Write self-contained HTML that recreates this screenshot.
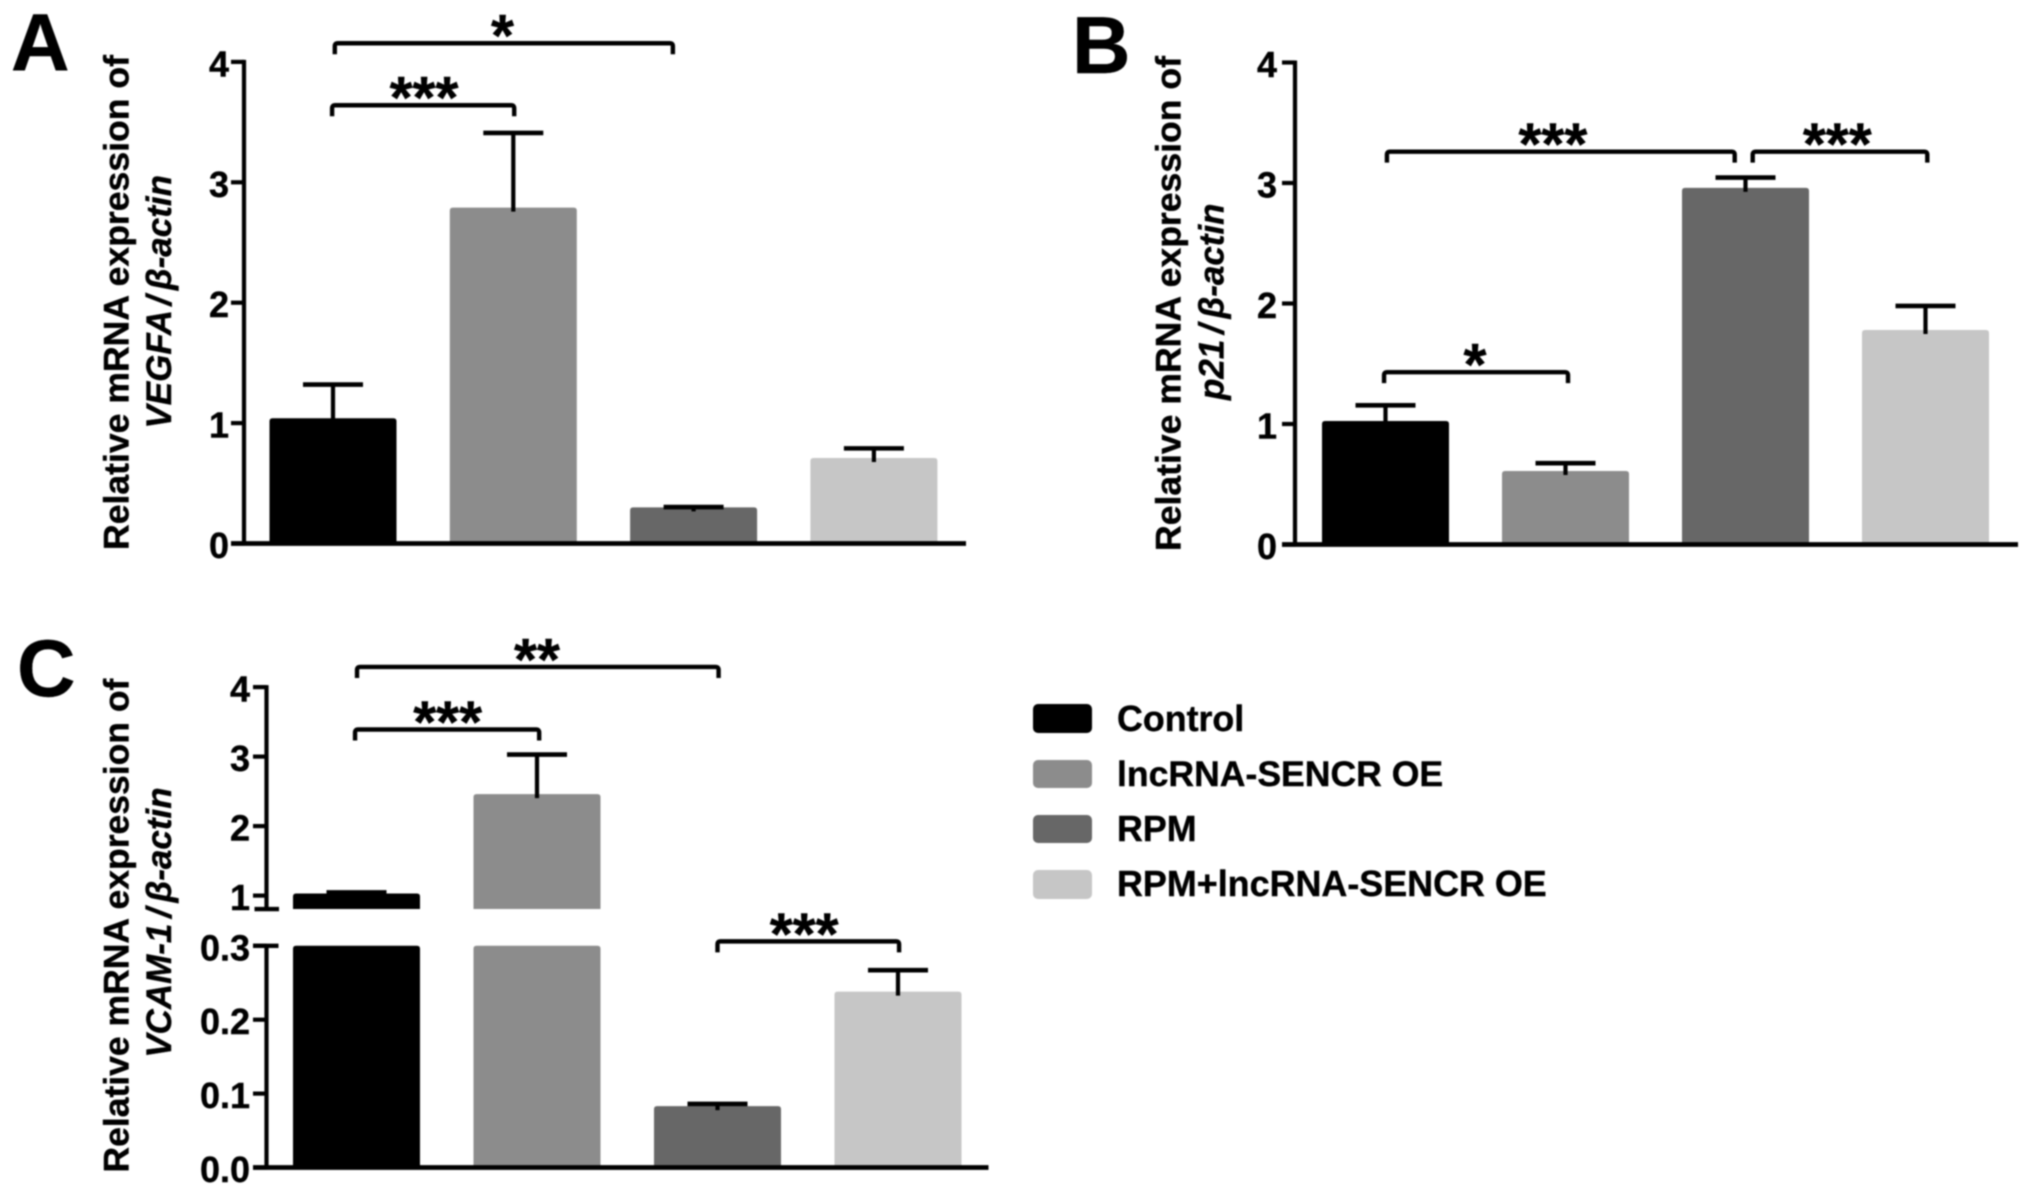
<!DOCTYPE html>
<html lang="en">
<head>
<meta charset="utf-8">
<title>Relative mRNA expression bar charts</title>
<style>
html,body{margin:0;padding:0;background:#fff;width:2031px;height:1192px;overflow:hidden}
svg{display:block;filter:blur(0.9px)}
text{font-family:"Liberation Sans",Arial,sans-serif;font-weight:700;fill:#000;stroke:#000;stroke-width:0.4px}
</style>
</head>
<body>
<svg id="figure" xmlns="http://www.w3.org/2000/svg" width="2031" height="1192" viewBox="0 0 2031 1192">
  <rect width="2031" height="1192" fill="#fff"/>

  <text x="11" y="70" font-size="81">A</text>
  <text x="1072" y="73" font-size="81">B</text>
  <text x="17" y="696" font-size="81">C</text>

  <text transform="translate(128.5 550) rotate(-90)" font-size="35.6">Relative mRNA expression of</text>
  <text transform="translate(171 428.6) rotate(-90)" font-size="35" word-spacing="-4" font-style="italic">VEGFA / β-actin</text>
  <text transform="translate(1180.5 551) rotate(-90)" font-size="35.6">Relative mRNA expression of</text>
  <text transform="translate(1223.5 400) rotate(-90)" font-size="35" word-spacing="-4" font-style="italic">p21 / β-actin</text>
  <text transform="translate(128.5 1172.5) rotate(-90)" font-size="35.5">Relative mRNA expression of</text>
  <text transform="translate(171 1057.8) rotate(-90)" font-size="35" word-spacing="-4" font-style="italic">VCAM-1 / β-actin</text>

  <g id="panels"></g>

  <g id="legend">
    <rect x="1033" y="704" width="59" height="29" rx="5" fill="#000"/>
    <text x="1117" y="731" font-size="35.8">Control</text>
    <rect x="1033" y="760" width="59" height="28" rx="5" fill="#8c8c8c"/>
    <text x="1117" y="786" font-size="35.6">lncRNA-SENCR OE</text>
    <rect x="1033" y="815" width="59" height="28" rx="5" fill="#676767"/>
    <text x="1117" y="841" font-size="35.8">RPM</text>
    <rect x="1033" y="870" width="59" height="29" rx="5" fill="#c6c6c6"/>
    <text x="1117" y="896" font-size="35.9">RPM+lncRNA-SENCR OE</text>
  </g>
</svg>
<script>
const categories = ['control', 'lncrna-sencr-oe', 'rpm', 'rpm-lncrna-sencr-oe'];
const panelAValues = [1.04, 2.79, 0.30, 0.71];
const panelAErrors = [0.28, 0.62, 0.003, 0.08];
const panelATicks = ['0', '1', '2', '3', '4'];
const panelBValues = [1.025, 0.61, 2.96, 1.78];
const panelBErrors = [0.13, 0.065, 0.085, 0.20];
const panelBTicks = ['0', '1', '2', '3', '4'];
const panelCValues = [1.03, 2.46, 0.083, 0.238];
const panelCErrors = [0.015, 0.57, 0.003, 0.029];
const panelCTicks = ['0.0', '0.1', '0.2', '0.3', '1', '2', '3', '4'];

const barColors = ['#000000', '#8c8c8c', '#676767', '#c6c6c6'];
const NS = 'http://www.w3.org/2000/svg';
const root = document.getElementById('panels');

function mk(tag, attrs, parent) {
  const el = document.createElementNS(NS, tag);
  for (const k in attrs) el.setAttribute(k, attrs[k]);
  parent.appendChild(el);
  return el;
}

function line(parent, x1, y1, x2, y2, w) {
  return mk('line', { x1: x1, y1: y1, x2: x2, y2: y2, stroke: '#000', 'stroke-width': w || 4.2 }, parent);
}

function barPath(x, w, top, bottom) {
  const r = Math.min(3, Math.max(0, bottom - top));
  return 'M' + x + ' ' + bottom + 'V' + (top + r) + 'Q' + x + ' ' + top + ' ' + (x + r) + ' ' + top +
    'H' + (x + w - r) + 'Q' + (x + w) + ' ' + top + ' ' + (x + w) + ' ' + (top + r) + 'V' + bottom + 'Z';
}

function drawBars(p, values, errors) {
  values.forEach(function (v, i) {
    const x = p.xCat(i) - p.barW / 2;
    const g = mk('g', {}, p.g);
    
    
    p.segments(v).forEach(function (seg) {
      const b = mk('path', { d: barPath(x, p.barW, seg[0], seg[1]), fill: barColors[i] }, g);
      
      
    });
    const topY = p.y(v + errors[i]);
    const cx = p.xCat(i);
    const stem = line(g, cx, topY, cx, p.y(v) + 4);
    
    
    const cap = line(g, cx - 30, topY, cx + 30, topY, 4.6);
    
    
  });
}

function drawTicks(p, ticks) {
  ticks.forEach(function (label) {
    const v = parseFloat(label);
    const ty = p.y(v);
    const t = line(p.g, p.axisX - p.tickLen, ty, p.axisX, ty);
    
    
    const txt = mk('text', { x: p.labelX, y: ty + 14.5, 'font-size': 36, 'text-anchor': 'end' }, p.g);
    txt.textContent = label;
    
    
  });
}

function bracket(p, from, to, level, stars, starAt) {
  const x1 = p.xCat(from), x2 = p.xCat(to), y = p.y(level);
  const g = mk('g', {}, p.g);
  
  
  mk('path', {
    d: 'M' + x1 + ' ' + (y + 11) + 'V' + (y + 3) + 'Q' + x1 + ' ' + y + ' ' + (x1 + 3) + ' ' + y +
      'H' + (x2 - 3) + 'Q' + x2 + ' ' + y + ' ' + x2 + ' ' + (y + 3) + 'V' + (y + 11),
    fill: 'none', stroke: '#000', 'stroke-width': 4.4
  }, g);
  const s = mk('text', { x: p.xCat(starAt), y: y + 13, 'font-size': 59, 'text-anchor': 'middle' }, g);
  s.textContent = stars;
  
  
}

function makePanel(name, o) {
  const g = mk('g', {}, root);
  
  
  o.g = g;
  o.xCat = function (i) { return o.x0 + i * o.step; };
  return o;
}

/* Panel A */
const pA = makePanel('a', {
  x0: 333, step: 180.3, barW: 127, axisX: 244, tickLen: 13, labelX: 229,
  y: function (v) { return 543.5 - v * 120.4; },
  segments: function (v) { return [[543.5 - v * 120.4, 543.5]]; }
});
drawBars(pA, panelAValues, panelAErrors);
const axisAY = line(pA.g, pA.axisX, pA.y(4) - 2, pA.axisX, pA.y(0));


const axisAX = line(pA.g, pA.axisX - pA.tickLen, pA.y(0), 966, pA.y(0), 4.8);


drawTicks(pA, panelATicks);
bracket(pA, 0.01, 1.885, 4.155, '*', 0.94);
bracket(pA, -0.005, 1.005, 3.64, '***', 0.505);

/* Panel B */
const pB = makePanel('b', {
  x0: 1385.5, step: 180, barW: 127, axisX: 1295, tickLen: 13, labelX: 1277,
  y: function (v) { return 544.5 - v * 120.5; },
  segments: function (v) { return [[544.5 - v * 120.5, 544.5]]; }
});
drawBars(pB, panelBValues, panelBErrors);
const axisBY = line(pB.g, pB.axisX, pB.y(4) - 2, pB.axisX, pB.y(0));


const axisBX = line(pB.g, pB.axisX - pB.tickLen, pB.y(0), 2018, pB.y(0), 4.8);


drawTicks(pB, panelBTicks);
bracket(pB, 0.008, 1.94, 3.26, '***', 0.93);
bracket(pB, 2.04, 3.01, 3.26, '***', 2.51);
bracket(pB, -0.008, 1.014, 1.43, '*', 0.497);

/* Panel C: broken y axis */
const breakLow = 0.3;
const breakHigh = 0.807;
const lowerY = function (v) { return 1167.5 - v * 739; };
const upperY = function (v) { return 895.6 - (v - 1) * 69.5; };
const pC = makePanel('c', {
  x0: 356.5, step: 180.5, barW: 127, axisX: 266.5, tickLen: 13.5, labelX: 250,
  y: function (v) { return v < 0.5 ? lowerY(v) : upperY(v); },
  segments: function (v) {
    if (v <= breakLow) return [[lowerY(v), lowerY(0)]];
    return [[upperY(v), upperY(breakHigh)], [lowerY(breakLow), lowerY(0)]];
  }
});
drawBars(pC, panelCValues, panelCErrors);
const axisCUpper = line(pC.g, pC.axisX, upperY(4) - 2, pC.axisX, upperY(breakHigh));


const axisCLower = line(pC.g, pC.axisX, lowerY(breakLow), pC.axisX, lowerY(0));


const breakTop = line(pC.g, pC.axisX - 12, upperY(breakHigh), pC.axisX + 12.5, upperY(breakHigh), 4.4);


const breakBottom = line(pC.g, pC.axisX - 13.5, lowerY(breakLow), pC.axisX + 12, lowerY(breakLow), 4.4);


const axisCX = line(pC.g, pC.axisX - pC.tickLen, lowerY(0), 988.5, lowerY(0), 4.8);


drawTicks(pC, panelCTicks);
bracket(pC, 0.003, 2.006, 4.29, '**', 1.0);
bracket(pC, -0.008, 1.012, 3.39, '***', 0.505);
bracket(pC, 2.0, 3.006, 0.306, '***', 2.48);
</script>
</body>
</html>
